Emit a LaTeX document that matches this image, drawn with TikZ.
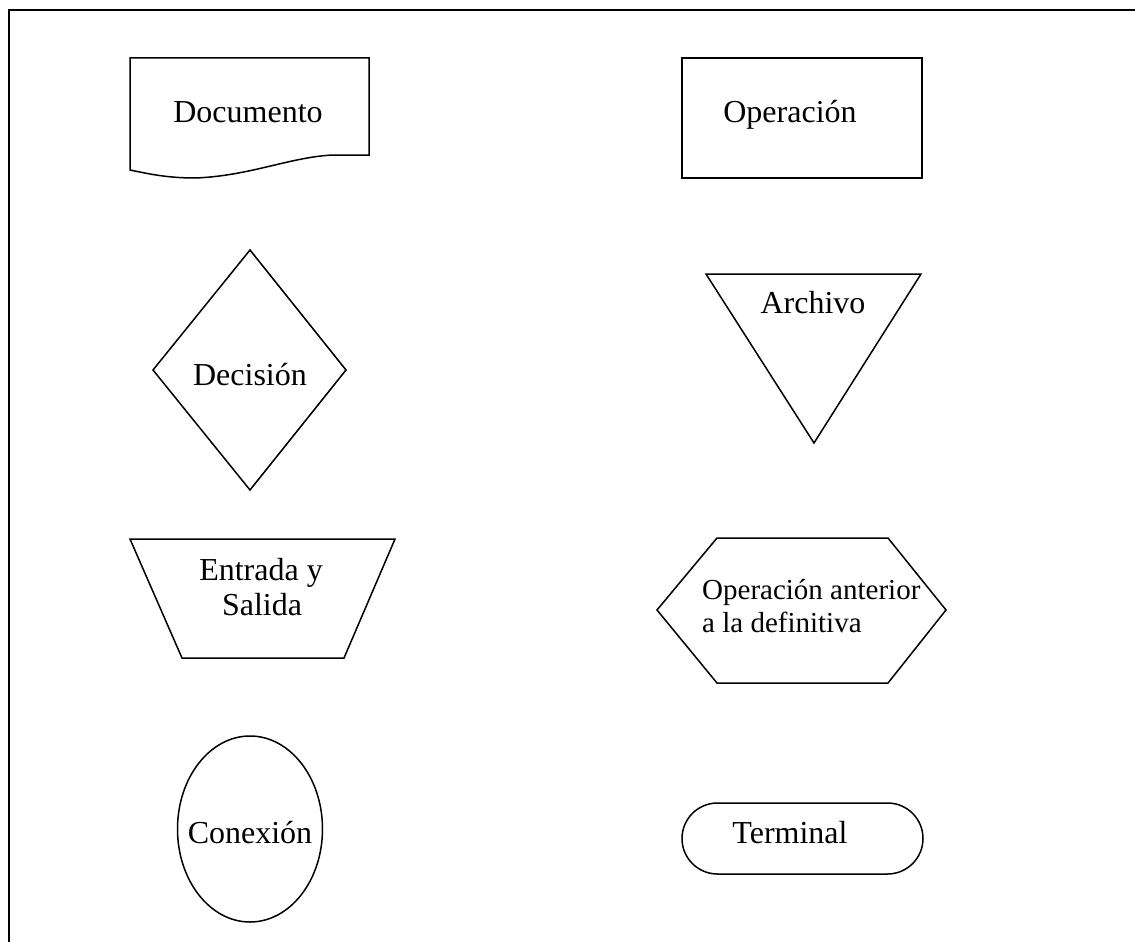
\documentclass[tikz,border=0pt]{standalone}
\usepackage{fontspec}
\setmainfont{Liberation Serif}
\begin{document}
\begin{tikzpicture}[x=1pt,y=-1pt,
  shapeline/.style={draw=black,line width=1.5pt,line join=miter},
  label/.style={inner sep=0pt,anchor=base,font=\fontsize{32}{36}\selectfont},
  smalllabel/.style={inner sep=0pt,anchor=base west,font=\fontsize{29}{33}\selectfont}]
\useasboundingbox (0,0) rectangle (1135,942);

% page frame (top and left edges)
\draw[line width=2.2pt] (9,942) -- (9,10) -- (1135,10);

% document
\draw[shapeline] (130,58) -- (369,58) -- (369,155) -- (333,155)
  .. controls (290,157) and (250,176) .. (195,178)
  .. controls (165,178) and (145,173) .. (130,170) -- cycle;
\node[label] (doc) at (248,122) {Documento};

% operation
\draw[shapeline] (682,58) rectangle (922,178);
\node[label] (op) at (790,122) {Operación};

% decision
\draw[shapeline] (250,250) -- (346,370) -- (250,490) -- (153,370) -- cycle;
\node[label] (dec) at (250,385) {Decisión};

% file
\draw[shapeline] (706,274) -- (921,274) -- (814,443) -- cycle;
\node[label] (file) at (813,313) {Archivo};

% input / output
\draw[shapeline] (130,539) -- (395,539) -- (344,658) -- (182,658) -- cycle;
\node[label] (io1) at (261,580) {Entrada y};
\node[label] (io2) at (262,615) {Salida};

% preparation
\draw[shapeline] (657,610) -- (717,538) -- (888,538) -- (946,610) -- (888,683) -- (717,683) -- cycle;
\node[smalllabel] (prep1) at (702,599) {Operación anterior};
\node[smalllabel] (prep2) at (702,632) {a la definitiva};

% connector
\draw[shapeline] (250,829) ellipse [x radius=72.5, y radius=93];
\node[label] (con) at (250,843) {Conexión};

% terminal
\draw[shapeline,rounded corners=35.5pt] (682,803) rectangle (923,874);
\node[label] (term) at (790,843) {Terminal};
\end{tikzpicture}
\end{document}
